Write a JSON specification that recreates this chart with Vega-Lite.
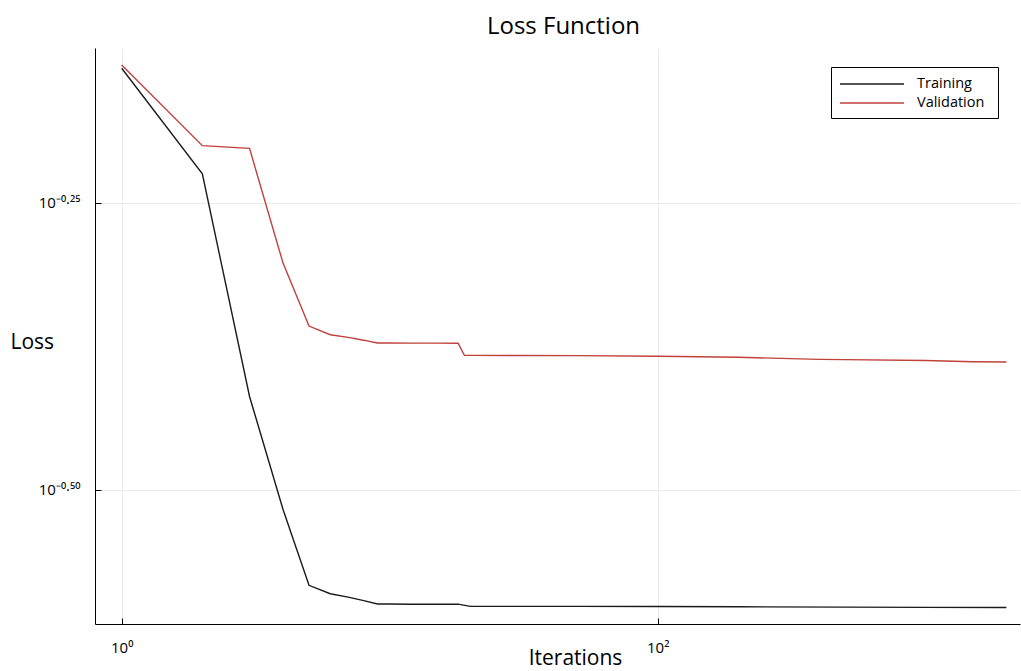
{
  "$schema": "https://vega.github.io/schema/vega-lite/v6.json",
  "width": 925,
  "height": 576,
  "autosize": {"type": "none"},
  "padding": {"left": 95, "top": 48, "right": 1, "bottom": 47},
  "background": "white",
  "title": {"text": "Loss Function", "fontSize": 24, "font": "Open Sans", "fontWeight": "normal", "color": "black", "offset": 9, "dx": 6},
  "config": {"view": {"stroke": null}, "font": "Open Sans"},
  "data": {"values": [
    {"iteration": 1, "loss": 0.7366, "series": "Training"},
    {"iteration": 2, "loss": 0.5960, "series": "Training"},
    {"iteration": 3, "loss": 0.3813, "series": "Training"},
    {"iteration": 4, "loss": 0.3040, "series": "Training"},
    {"iteration": 5, "loss": 0.2611, "series": "Training"},
    {"iteration": 6, "loss": 0.2567, "series": "Training"},
    {"iteration": 7, "loss": 0.2550, "series": "Training"},
    {"iteration": 8, "loss": 0.2532, "series": "Training"},
    {"iteration": 9, "loss": 0.2515, "series": "Training"},
    {"iteration": 10, "loss": 0.2515, "series": "Training"},
    {"iteration": 12, "loss": 0.2514, "series": "Training"},
    {"iteration": 15, "loss": 0.2514, "series": "Training"},
    {"iteration": 18, "loss": 0.2514, "series": "Training"},
    {"iteration": 20, "loss": 0.2503, "series": "Training"},
    {"iteration": 30, "loss": 0.2503, "series": "Training"},
    {"iteration": 50, "loss": 0.2503, "series": "Training"},
    {"iteration": 100, "loss": 0.2502, "series": "Training"},
    {"iteration": 200, "loss": 0.2501, "series": "Training"},
    {"iteration": 500, "loss": 0.2499, "series": "Training"},
    {"iteration": 1000, "loss": 0.2498, "series": "Training"},
    {"iteration": 2000, "loss": 0.2497, "series": "Training"},
    {"iteration": 1, "loss": 0.7415, "series": "Validation"},
    {"iteration": 2, "loss": 0.6306, "series": "Validation"},
    {"iteration": 3, "loss": 0.6272, "series": "Validation"},
    {"iteration": 4, "loss": 0.4983, "series": "Validation"},
    {"iteration": 5, "loss": 0.4392, "series": "Validation"},
    {"iteration": 6, "loss": 0.4316, "series": "Validation"},
    {"iteration": 7, "loss": 0.4293, "series": "Validation"},
    {"iteration": 8, "loss": 0.4269, "series": "Validation"},
    {"iteration": 9, "loss": 0.4245, "series": "Validation"},
    {"iteration": 10, "loss": 0.4245, "series": "Validation"},
    {"iteration": 12, "loss": 0.4244, "series": "Validation"},
    {"iteration": 15, "loss": 0.4244, "series": "Validation"},
    {"iteration": 18, "loss": 0.4243, "series": "Validation"},
    {"iteration": 19, "loss": 0.4141, "series": "Validation"},
    {"iteration": 20, "loss": 0.4141, "series": "Validation"},
    {"iteration": 30, "loss": 0.4140, "series": "Validation"},
    {"iteration": 50, "loss": 0.4139, "series": "Validation"},
    {"iteration": 100, "loss": 0.4134, "series": "Validation"},
    {"iteration": 200, "loss": 0.4125, "series": "Validation"},
    {"iteration": 400, "loss": 0.4108, "series": "Validation"},
    {"iteration": 500, "loss": 0.4106, "series": "Validation"},
    {"iteration": 1000, "loss": 0.4098, "series": "Validation"},
    {"iteration": 1500, "loss": 0.4088, "series": "Validation"},
    {"iteration": 2000, "loss": 0.4086, "series": "Validation"}
  ]},
  "mark": {"type": "line", "strokeWidth": 1.4, "clip": true},
  "encoding": {
    "x": {
      "field": "iteration", "type": "quantitative",
      "scale": {"type": "log", "domain": [0.7952, 2248], "nice": false},
      "axis": {
        "values": [1, 100],
        "labelExpr": "datum.value < 10 ? '10⁰' : '10²'",
        "labelFontSize": 15, "labelColor": "black", "labelPadding": 22,
        "tickSize": -6, "tickColor": "black", "domainColor": "black", "domainWidth": 1,
        "grid": true, "gridColor": "#ebebeb", "gridWidth": 1,
        "title": "Iterations", "titleFontSize": 21, "titleFontWeight": "normal", "titleColor": "black",
        "titleX": 480, "titleY": 34, "titleBaseline": "middle", "titleAlign": "center"
      }
    },
    "y": {
      "field": "loss", "type": "quantitative",
      "scale": {"type": "log", "domain": [0.2416, 0.7671], "nice": false, "zero": false},
      "axis": {
        "values": [0.5623413, 0.3162278],
        "labelExpr": "datum.value > 0.4 ? '10⁻⁰·²⁵' : '10⁻⁰·⁵⁰'",
        "labelFontSize": 15, "labelColor": "black", "labelPadding": 21,
        "tickSize": -6, "tickColor": "black", "domainColor": "black", "domainWidth": 1,
        "grid": true, "gridColor": "#ebebeb", "gridWidth": 1,
        "title": "Loss", "titleFontSize": 21, "titleFontWeight": "normal", "titleColor": "black",
        "titleAngle": 0, "titleX": -85, "titleY": 294, "titleBaseline": "middle", "titleAlign": "left"
      }
    },
    "color": {
      "field": "series", "type": "nominal",
      "scale": {"domain": ["Training", "Validation"], "range": ["#1a1a1a", "#c0403a"]},
      "legend": {
        "title": " ", "titleOrient": "right", "titlePadding": 6, "titleFontSize": 14,
        "orient": "none", "legendX": 736, "legendY": 19,
        "strokeColor": "black", "fillColor": "white", "padding": 8,
        "symbolType": "M-1,0H7", "symbolSize": 256, "symbolStrokeWidth": 1.5,
        "labelOffset": 60, "labelFontSize": 14.5, "labelColor": "black", "rowPadding": 3
      }
    }
  }
}
